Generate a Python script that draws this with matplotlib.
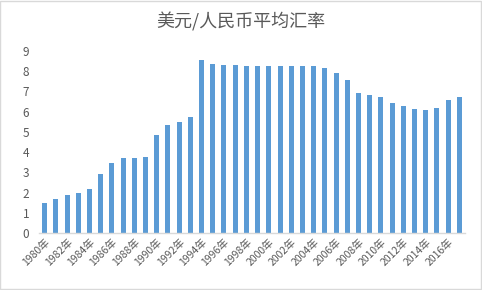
import matplotlib
matplotlib.use("Agg")
import matplotlib.pyplot as plt
from matplotlib.patches import Rectangle

plt.rcParams["font.family"] = ["Noto Sans CJK SC", "DejaVu Sans"]

# --- data ---
years = list(range(1980, 2018))
rates = [1.50, 1.70, 1.89, 1.98, 2.20, 2.94, 3.45, 3.72, 3.72, 3.77,
         4.83, 5.32, 5.51, 5.76, 8.55, 8.35, 8.31, 8.29, 8.28, 8.28,
         8.28, 8.28, 8.28, 8.28, 8.28, 8.16, 7.90, 7.56, 6.90, 6.80,
         6.72, 6.44, 6.29, 6.14, 6.10, 6.20, 6.60, 6.75]
tick_labels = [f"{y}年" for y in years]
yticks = list(range(0, 10))

BAR = "#5B9BD5"
TEXT = "#595959"
LINE = "#D9D9D9"

fig = plt.figure(figsize=(4.82, 2.90), dpi=100)
fig.patch.set_facecolor("white")
fig.patches.append(Rectangle((0.001, 0.002), 0.996, 0.994, transform=fig.transFigure,
                             fill=False, edgecolor=LINE, linewidth=1.0))

ax = fig.add_axes([39 / 482, 57 / 290, 426 / 482, 182 / 290])
x = list(range(len(years)))
ax.bar(x, rates, width=0.45, color=BAR, zorder=2)

ax.set_xlim(-0.5, len(years) - 0.5)
ax.set_ylim(0, 9)
ax.set_yticks(yticks)
ax.set_yticklabels([str(v) for v in yticks], fontsize=8.5, color=TEXT)
ax.set_xticks(x[::2])
ax.set_xticklabels(tick_labels[::2], rotation=45, ha="right", rotation_mode="anchor",
                   fontsize=7.5, color=TEXT)
ax.tick_params(axis="both", length=0, pad=7)
ax.tick_params(axis="x", pad=3)

for side in ["top", "right", "left"]:
    ax.spines[side].set_visible(False)
ax.spines["bottom"].set_color(LINE)
ax.spines["bottom"].set_linewidth(1.0)

fig.text(0.5, 1 - 22 / 290, "美元/人民币平均汇率", ha="center", va="center",
         fontsize=13, color=TEXT)

fig.savefig("out.png", dpi=100)
